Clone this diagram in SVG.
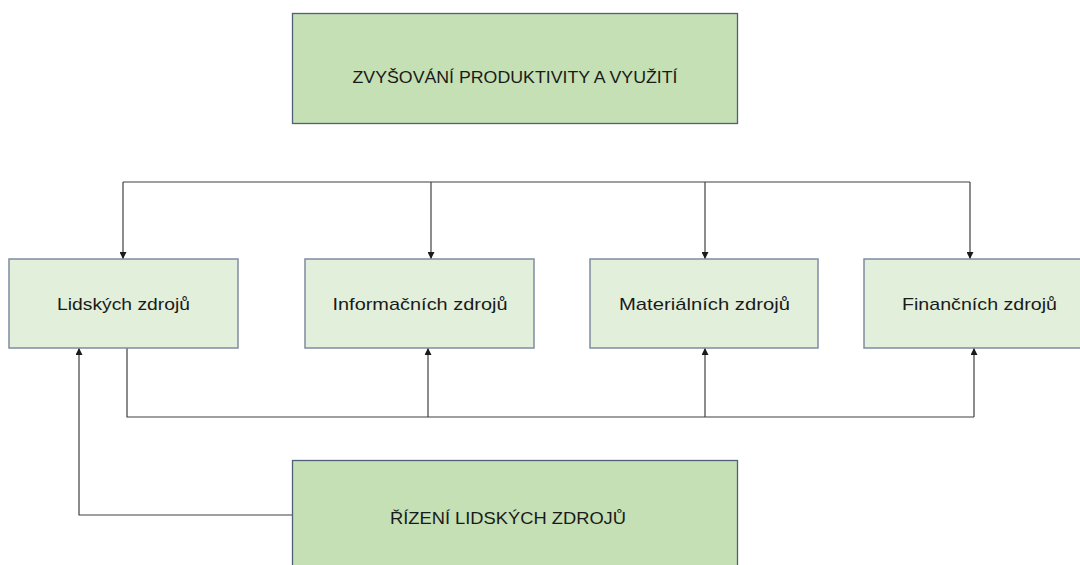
<svg xmlns="http://www.w3.org/2000/svg" width="1080" height="565" viewBox="0 0 1080 565">
<style>
.big{fill:#C5E0B4;stroke:#4F6079;stroke-width:1.3}
.small{fill:#E2EFDA;stroke:#7F8CA3;stroke-width:1.5}
.t{font-family:"Liberation Sans",Arial,sans-serif;font-size:17px;fill:#1a1a1a;text-anchor:middle}
.c{fill:none;stroke:#404040;stroke-width:1.2}
</style>
<defs>
<marker id="ah" viewBox="0 0 10 10" refX="10" refY="5" markerWidth="7" markerHeight="7" markerUnits="userSpaceOnUse" orient="auto">
<path d="M0,0 L10,5 L0,10 z" fill="#1a1a1a"/>
</marker>
</defs>
<rect width="1080" height="565" fill="#ffffff"/>
<g id="connectors">
<path class="c" d="M123,182 H970"/>
<line class="c" x1="123" y1="182" x2="123" y2="259" marker-end="url(#ah)"/>
<line class="c" x1="431" y1="182" x2="431" y2="259" marker-end="url(#ah)"/>
<line class="c" x1="705" y1="182" x2="705" y2="259" marker-end="url(#ah)"/>
<line class="c" x1="970" y1="182" x2="970" y2="259" marker-end="url(#ah)"/>
<path class="c" d="M127,348 V417 H974"/>
<line class="c" x1="428" y1="417" x2="428" y2="348" marker-end="url(#ah)"/>
<line class="c" x1="705" y1="417" x2="705" y2="348" marker-end="url(#ah)"/>
<line class="c" x1="974" y1="417" x2="974" y2="348" marker-end="url(#ah)"/>
<path class="c" d="M292,515 H79 V348" marker-end="url(#ah)"/>
</g>
<g id="top">
<rect class="big" x="292.5" y="13.5" width="445" height="110"/>
<text class="t" x="515" y="83" textLength="325" lengthAdjust="spacingAndGlyphs">ZVYŠOVÁNÍ PRODUKTIVITY A VYUŽITÍ</text>
</g>
<g id="lidskych">
<rect class="small" x="9" y="259" width="229" height="89"/>
<text class="t" x="123.5" y="310" textLength="133" lengthAdjust="spacingAndGlyphs">Lidských zdrojů</text>
</g>
<g id="informacnich">
<rect class="small" x="305" y="259" width="229" height="89"/>
<text class="t" x="420" y="310" textLength="175" lengthAdjust="spacingAndGlyphs">Informačních zdrojů</text>
</g>
<g id="materialnich">
<rect class="small" x="590" y="259" width="228" height="89"/>
<text class="t" x="704.5" y="310" textLength="171" lengthAdjust="spacingAndGlyphs">Materiálních zdrojů</text>
</g>
<g id="financnich">
<rect class="small" x="864" y="259" width="232" height="89"/>
<text class="t" x="979.5" y="310" textLength="155" lengthAdjust="spacingAndGlyphs">Finančních zdrojů</text>
</g>
<g id="rizeni">
<rect class="big" x="292.5" y="460.5" width="445" height="110"/>
<text class="t" x="508" y="524" textLength="236" lengthAdjust="spacingAndGlyphs">ŘÍZENÍ LIDSKÝCH ZDROJŮ</text>
</g>
</svg>
